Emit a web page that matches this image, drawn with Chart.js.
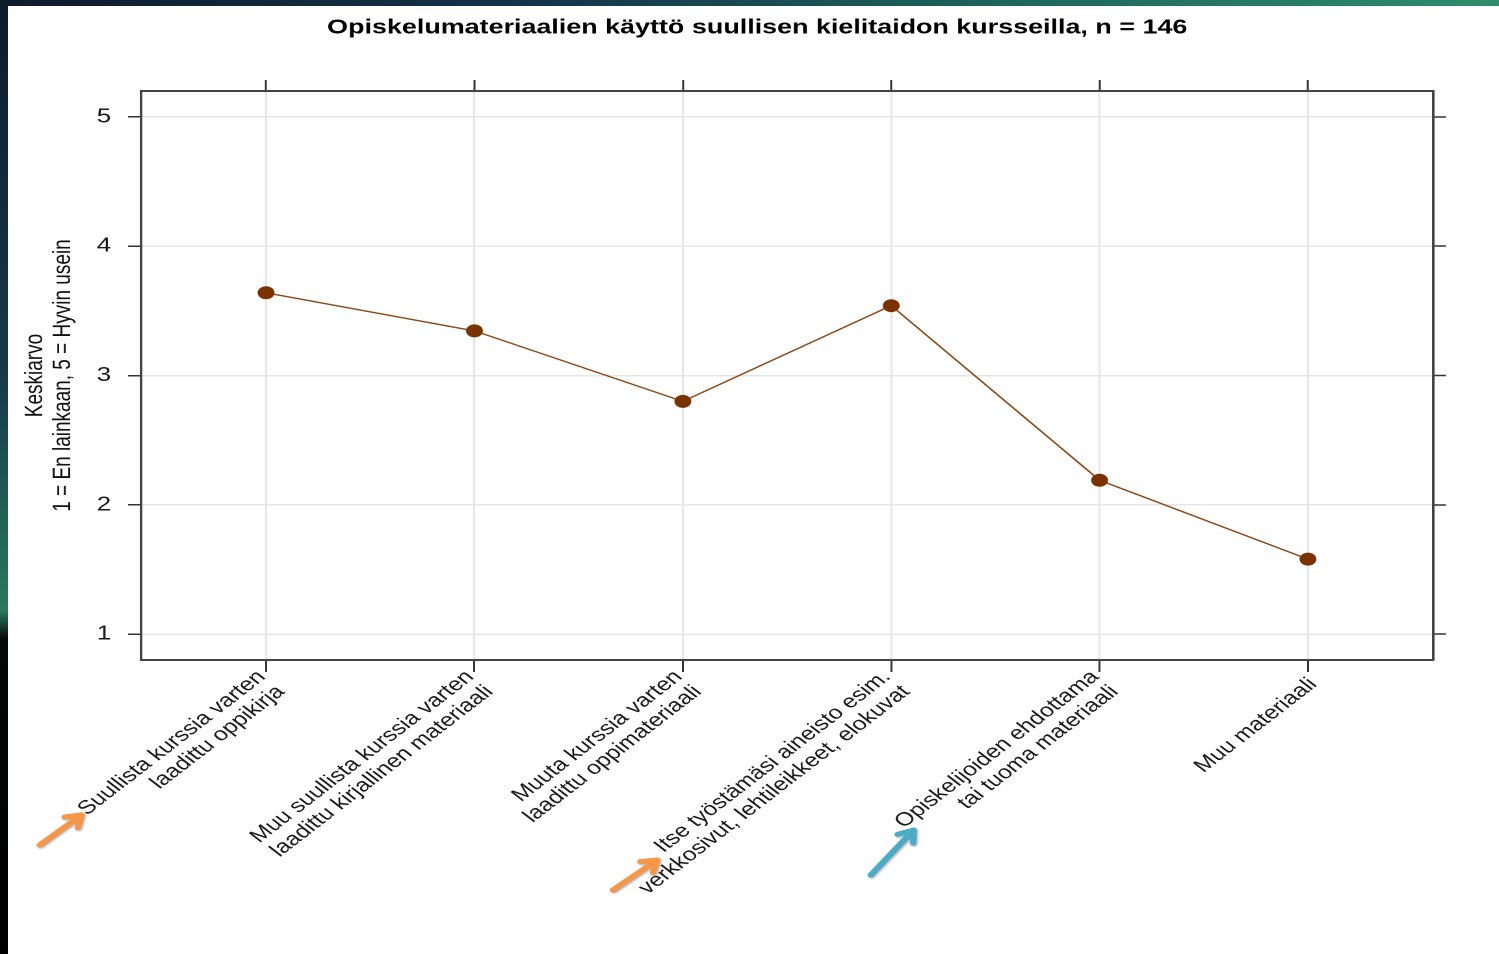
<!DOCTYPE html>
<html>
<head>
<meta charset="utf-8">
<script src="https://cdn.jsdelivr.net/npm/chart.js@4.4.1/dist/chart.umd.min.js"></script>
<style>
  html,body{margin:0;padding:0;background:#fff;overflow:hidden;width:1499px;height:954px;}
  #wrap{position:absolute;left:0;top:0;width:1153px;height:954px;transform:scaleX(1.3);transform-origin:0 0;}
  #topbar{position:absolute;left:0;top:0;width:1499px;height:6px;background:linear-gradient(90deg,#0e1b2b 0%,#15324a 35%,#1f6a5c 70%,#2f8c6c 100%);z-index:2;}
  #leftbar{position:absolute;left:0;top:0;width:8px;height:954px;background:linear-gradient(180deg,#0e1b2b 0%,#163a4a 40%,#2a7a5c 64%,#050807 67%,#000 100%);z-index:2;}
</style>
</head>
<body>
<div id="topbar"></div>
<div id="leftbar"></div>
<div id="wrap"><canvas id="c" width="1153" height="954"></canvas></div>
<script>
// data
const categories = [
  ['Suullista kurssia varten', 'laadittu oppikirja'],
  ['Muu suullista kurssia varten', 'laadittu kirjallinen materiaali'],
  ['Muuta kurssia varten', 'laadittu oppimateriaali'],
  ['Itse työstämäsi aineisto esim.', 'verkkosivut, lehtileikkeet, elokuvat'],
  ['Opiskelijoiden ehdottama', 'tai tuoma materiaali'],
  'Muu materiaali'
];
const means = [3.64, 3.345, 2.80, 3.54, 2.19, 1.58];
const yTicks = [1, 2, 3, 4, 5];
const chartTitle = 'Opiskelumateriaalien käyttö suullisen kielitaidon kursseilla, n = 146';
const yTitle = ['Keskiarvo', '1 = En lainkaan, 5 = Hyvin usein'];

const FONT = '"Liberation Sans", Arial, Helvetica, sans-serif';
const xIdx = categories.map((_, i) => i);

// pointers drawn on the slide, placed relative to the category tick
const arrows = [
  {cat: 0, color: '#f79646', tail: [-174, 185], head: [-142, 155]},
  {cat: 3, color: '#f79646', tail: [-214, 230], head: [-180, 200]},
  {cat: 4, color: '#4bacc6', tail: [-176, 215], head: [-143, 170]}
];

const fixedSize = (prop, v) => (s) => { s[prop] = v; };
const setTicks = (vals) => (s) => { s.ticks = vals.map(v => ({value: v})); };

// centre multi-line rotated labels on the tick like the original
const centerLabels = {
  id: 'centerLabels',
  beforeDraw(chart){
    const items = chart.scales.x.getLabelItems();
    items.forEach(it => {
      if (!it._c && Array.isArray(it.label)) {
        it.textOffset -= (it.label.length - 1) * it.font.lineHeight / 2;
        it._c = 1;
      }
    });
  }
};

const pointers = {
  id: 'pointers',
  afterDraw(chart){
    const {ctx, chartArea} = chart;
    const sx = chart.scales.x;
    ctx.save();
    for (const a of arrows){
      const px = sx.getPixelForValue(a.cat);
      const tx = px + a.tail[0], ty = chartArea.bottom + a.tail[1];
      const hx = px + a.head[0], hy = chartArea.bottom + a.head[1];
      const ang = Math.atan2(hy - ty, hx - tx);
      ctx.strokeStyle = a.color;
      ctx.lineWidth = 5;
      ctx.lineCap = 'round';
      ctx.lineJoin = 'round';
      ctx.shadowColor = 'rgba(0,0,0,0.35)';
      ctx.shadowBlur = 4;
      ctx.shadowOffsetX = 1.5;
      ctx.shadowOffsetY = 2;
      ctx.beginPath();
      ctx.moveTo(tx, ty); ctx.lineTo(hx, hy);
      const L = 13;
      ctx.moveTo(hx - L * Math.cos(ang - 0.6), hy - L * Math.sin(ang - 0.6));
      ctx.lineTo(hx, hy);
      ctx.lineTo(hx - L * Math.cos(ang + 0.6), hy - L * Math.sin(ang + 0.6));
      ctx.stroke();
    }
    ctx.restore();
  }
};

const gridCol = '#e6e6e6', tickCol = '#333', borderCol = '#444';

new Chart(document.getElementById('c'), {
  type: 'line',
  data: {
    datasets: [{
      data: means.map((v, i) => ({x: xIdx[i], y: v})),
      borderColor: '#8b4a18',
      borderWidth: 1.4,
      backgroundColor: '#7a3300',
      pointBackgroundColor: '#7a3300',
      pointBorderWidth: 0,
      pointRadius: 6.5,
      tension: 0,
      xAxisID: 'x', yAxisID: 'y'
    }]
  },
  options: {
    responsive: false,
    animation: false,
    devicePixelRatio: 2,
    layout: {padding: {left: 12, right: 0, top: 0, bottom: 0}},
    plugins: {
      legend: {display: false},
      tooltip: {enabled: false},
      title: {
        display: true, text: chartTitle, color: '#000',
        font: {family: FONT, size: 20.7, weight: 'bold', lineHeight: 1.2},
        padding: {top: 15.3, bottom: 39.9}
      }
    },
    scales: {
      x: {
        type: 'linear', axis: 'x', position: 'bottom', min: -0.6, max: 5.6,
        afterBuildTicks: setTicks(xIdx),
        afterFit: fixedSize('height', 294),
        grid: {color: gridCol, lineWidth: 1.5, tickColor: tickCol, tickWidth: 1.5, tickLength: 12},
        border: {color: borderCol, width: 2},
        ticks: {
          autoSkip: false, minRotation: 45, maxRotation: 45, padding: 2, labelOffset: 4,
          color: '#1a1a1a', font: {family: FONT, size: 19, lineHeight: 1.1},
          callback: (v) => categories[v]
        }
      },
      x2: {
        type: 'linear', axis: 'x', position: 'top', min: -0.6, max: 5.6,
        afterBuildTicks: setTicks(xIdx),
        afterFit: fixedSize('height', 11),
        grid: {drawOnChartArea: false, tickColor: tickCol, tickWidth: 1.5, tickLength: 11},
        border: {color: borderCol, width: 2},
        ticks: {display: false}
      },
      y: {
        type: 'linear', axis: 'y', position: 'left', min: 0.8, max: 5.2,
        afterBuildTicks: setTicks(yTicks),
        afterFit: fixedSize('width', 96.5),
        grid: {color: gridCol, lineWidth: 1.5, tickColor: tickCol, tickWidth: 1.5, tickLength: 10},
        border: {color: borderCol, width: 2},
        ticks: {padding: 13, color: '#1a1a1a', font: {family: FONT, size: 20}},
        title: {
          display: true, text: yTitle, color: '#111',
          font: {family: FONT, size: 19, lineHeight: 1.12},
          padding: {top: 4.7, bottom: 0}
        }
      },
      y2: {
        type: 'linear', axis: 'y', position: 'right', min: 0.8, max: 5.2,
        afterBuildTicks: setTicks(yTicks),
        afterFit: fixedSize('width', 50.7),
        grid: {drawOnChartArea: false, tickColor: tickCol, tickWidth: 1.5, tickLength: 10},
        border: {color: borderCol, width: 2},
        ticks: {display: false}
      }
    }
  },
  plugins: [centerLabels, pointers]
});
</script>
</body>
</html>
